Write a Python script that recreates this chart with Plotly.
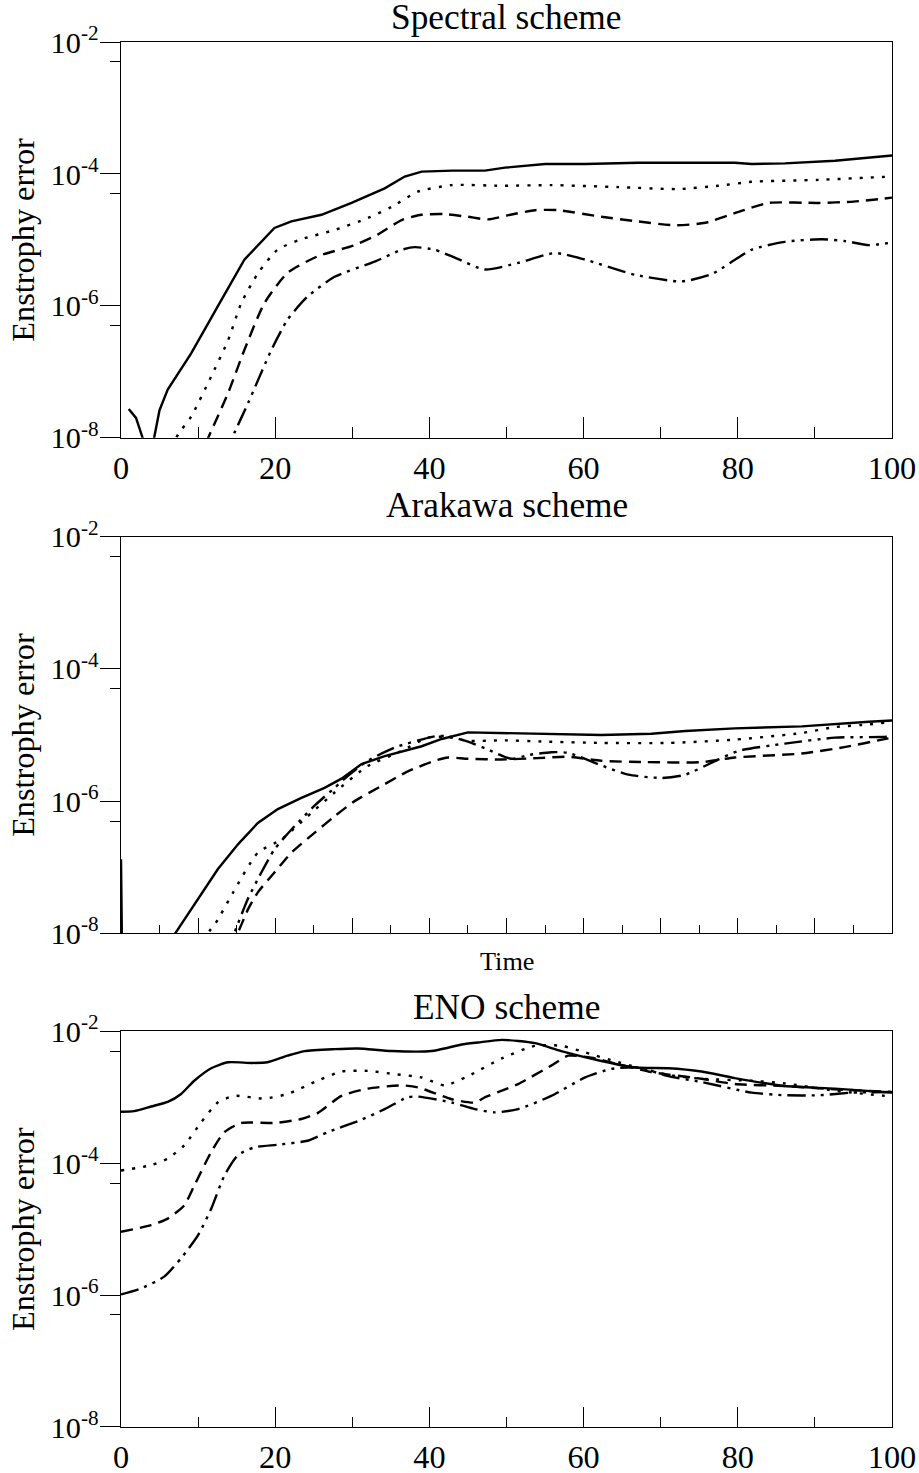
import plotly.graph_objects as go

FONT = "Liberation Serif, Times New Roman, serif"

# ---------------- data (log10 of enstrophy error) ----------------
# Spectral scheme
sp_solid_x = [1.0, 1.95, 2.8, 3.5, 4.3, 5.0, 6.06, 9.1, 12.55, 16.0, 19.9, 22.1, 26.0, 29.9, 34.2, 36.8, 39.0, 43.0, 47.2, 49.8, 55, 60.2, 67.1, 73, 79.6, 81.8, 86.1, 92.6, 100]
sp_solid_y = [-7.565, -7.70, -8.0, -8.6, -8.0, -7.58, -7.27, -6.72, -6.01, -5.30, -4.82, -4.72, -4.62, -4.44, -4.22, -4.04, -3.965, -3.95, -3.95, -3.905, -3.85, -3.85, -3.83, -3.83, -3.83, -3.85, -3.84, -3.80, -3.72]
sp_dot_x = [6.0, 7.4, 9.1, 11.7, 13.9, 15.6, 17.8, 20.3, 23.4, 27.7, 32.0, 35.1, 38.5, 42.9, 49.4, 55.8, 64.5, 72.3, 77.5, 81.8, 90.5, 100]
sp_dot_y = [-8.3, -7.95, -7.68, -7.07, -6.52, -5.96, -5.50, -5.15, -4.99, -4.85, -4.67, -4.50, -4.27, -4.17, -4.18, -4.17, -4.20, -4.23, -4.18, -4.12, -4.09, -4.04]
sp_dash_x = [10, 11.5, 13.9, 16.0, 18.6, 21.6, 25.5, 30.3, 33.3, 36.4, 39.0, 42.0, 45, 47.6, 50.5, 53.7, 56.7, 62.3, 67, 71.9, 75.8, 80, 84, 90.5, 95, 100]
sp_dash_y = [-8.35, -7.95, -7.32, -6.67, -5.96, -5.50, -5.25, -5.08, -4.92, -4.70, -4.62, -4.61, -4.65, -4.69, -4.62, -4.55, -4.55, -4.65, -4.72, -4.78, -4.74, -4.58, -4.44, -4.44, -4.42, -4.36]
sp_ddd_x = [13, 14.5, 16.5, 19.5, 21.6, 24.2, 27.7, 32.9, 36.4, 38.1, 40.7, 43.5, 47.2, 51.5, 56.3, 60.2, 66.7, 72.7, 76.6, 81.8, 86.1, 90.9, 94, 97, 100]
sp_ddd_y = [-8.4, -7.98, -7.47, -6.67, -6.21, -5.86, -5.56, -5.33, -5.15, -5.11, -5.15, -5.28, -5.45, -5.35, -5.20, -5.30, -5.53, -5.63, -5.52, -5.15, -5.03, -4.99, -5.02, -5.08, -5.04]

# Arakawa scheme
ar_solid_x = [0, 0.3, 3, 6.0, 7.1, 10.4, 12.55, 15.2, 17.75, 20.35, 23.4, 26.4, 28.6, 31.2, 34.2, 39, 41.6, 45, 49.4, 55, 62.3, 68.8, 73.2, 79.6, 88.3, 97, 100]
ar_solid_y = [-6.88, -10, -11, -8.2, -7.99, -7.41, -7.03, -6.65, -6.33, -6.12, -5.95, -5.80, -5.66, -5.44, -5.32, -5.17, -5.06, -4.96, -4.97, -4.99, -5.00, -4.98, -4.94, -4.90, -4.87, -4.80, -4.78]
ar_dot_x = [10.5, 12.3, 14.5, 17.75, 20.8, 24.2, 27.7, 32, 36.4, 39.8, 42.4, 45, 49.4, 55, 62.3, 71, 79.6, 88.3, 92.6, 97, 100]
ar_dot_y = [-8.1, -7.84, -7.39, -6.78, -6.58, -6.23, -5.87, -5.47, -5.24, -5.04, -5.03, -5.09, -5.08, -5.10, -5.12, -5.12, -5.07, -4.97, -4.88, -4.84, -4.80]
ar_dash_x = [14, 15.15, 16.5, 17.75, 19.9, 22.1, 25.1, 27.7, 30.3, 33.8, 37.2, 40.7, 42.4, 45, 49.4, 54, 58, 62.3, 68, 75.3, 79.6, 88.3, 94, 98.7, 100]
ar_dash_y = [-8.2, -7.99, -7.63, -7.38, -7.08, -6.78, -6.48, -6.23, -6.00, -5.77, -5.55, -5.39, -5.34, -5.36, -5.37, -5.35, -5.33, -5.39, -5.41, -5.41, -5.34, -5.28, -5.18, -5.07, -5.04]
ar_ddd_x = [13.5, 14.7, 16.45, 18.2, 19.9, 22.5, 25.1, 27.7, 29.4, 32, 35.5, 40.7, 42.4, 45, 47.6, 50.6, 53, 55.8, 58, 62.3, 65.8, 70.1, 73.2, 77.5, 80.1, 86.1, 92.6, 98.7, 100]
ar_ddd_y = [-8.3, -7.99, -7.48, -7.08, -6.73, -6.38, -6.07, -5.80, -5.62, -5.39, -5.19, -5.02, -5.02, -5.10, -5.22, -5.36, -5.30, -5.26, -5.27, -5.46, -5.60, -5.65, -5.60, -5.37, -5.24, -5.13, -5.04, -5.03, -5.02]

# ENO scheme
en_solid_x = [0, 1.7, 3.9, 6.06, 7.8, 9.5, 11.7, 13.9, 16.9, 19, 21.6, 23.8, 27.7, 30.7, 35.1, 40.3, 42.4, 44.2, 46.3, 49.4, 53.7, 57.1, 62.3, 66.7, 71, 75.3, 79.6, 86.1, 92.6, 100]
en_solid_y = [-3.22, -3.21, -3.14, -3.07, -2.95, -2.75, -2.56, -2.47, -2.48, -2.47, -2.37, -2.30, -2.27, -2.26, -2.30, -2.30, -2.25, -2.20, -2.17, -2.13, -2.18, -2.30, -2.45, -2.55, -2.56, -2.61, -2.71, -2.83, -2.87, -2.93]
en_dot_x = [0, 3.9, 6.06, 8.2, 10.4, 12.55, 14.7, 18.6, 21.6, 25.5, 28.6, 32, 35.5, 39, 42, 45, 49.4, 53.7, 57.1, 60.2, 64.5, 71, 75.3, 81.8, 86.1, 92.6, 100]
en_dot_y = [-4.11, -4.03, -3.93, -3.73, -3.38, -3.08, -2.98, -3.02, -2.95, -2.75, -2.61, -2.60, -2.65, -2.70, -2.82, -2.68, -2.41, -2.22, -2.22, -2.32, -2.47, -2.66, -2.72, -2.75, -2.79, -2.90, -2.99]
en_dash_x = [0, 3.9, 6.06, 8.2, 9.5, 11.7, 13.4, 15.6, 19.9, 23.4, 25.5, 28.6, 32, 36.4, 38.5, 42.9, 45.9, 47.2, 49.4, 51.5, 55.8, 58, 61, 64.5, 68.8, 75.3, 79.6, 86.1, 92.6, 100]
en_dash_y = [-5.04, -4.94, -4.84, -4.64, -4.34, -3.83, -3.53, -3.39, -3.39, -3.33, -3.24, -2.98, -2.87, -2.82, -2.85, -3.03, -3.08, -3.00, -2.90, -2.80, -2.52, -2.37, -2.40, -2.50, -2.62, -2.72, -2.80, -2.83, -2.88, -2.92]
en_ddd_x = [0, 2.6, 5.6, 7.8, 10, 11.7, 13.4, 15.15, 17.3, 20.35, 24.2, 26.8, 31.2, 34.2, 37.2, 38.5, 42.9, 45.9, 48.5, 51.5, 55.8, 60.2, 63.6, 67.1, 71, 75.3, 81.8, 86.1, 90.5, 94.8, 100]
en_ddd_y = [-5.99, -5.9, -5.72, -5.44, -5.09, -4.69, -4.19, -3.88, -3.76, -3.72, -3.66, -3.53, -3.34, -3.18, -3.00, -2.99, -3.08, -3.18, -3.23, -3.18, -2.98, -2.70, -2.57, -2.55, -2.68, -2.77, -2.93, -2.97, -2.97, -2.93, -2.92]

panel_titles = ["Spectral scheme", "Arakawa scheme", "ENO scheme"]
y_title = "Enstrophy error"
x_title_mid = "Time"
y_tick_vals = [1e-8, 1e-6, 1e-4, 1e-2]
y_tick_text = ["10<sup>-8</sup>", "10<sup>-6</sup>", "10<sup>-4</sup>", "10<sup>-2</sup>"]
y_minor_vals = [5e-7, 5e-5, 5e-3]

# ---------------- layout helpers ----------------
# S compensates for a uniform ~1% down-scaling observed in the captured page
S = 1.0095
W, H = 919, 1473
ML, MR, MT, MB = 120, 29, 42, 45
PW = W - ML - MR
PH = H - MT - MB


def yp(p):
    return (H - MB - p) / PH


def xp(p):
    return (p - ML) / PW


def s(v):
    return v * S


DASH = {
    "solid": "solid",
    "dot": "%.1fpx,%.1fpx" % (s(3), s(8)),
    "dash": "%.1fpx,%.1fpx" % (s(12), s(7)),
    "ddd": ",".join("%.1fpx" % s(v) for v in (18, 6, 3, 6, 3, 6)),
}

fig = go.Figure()

panels = [
    ("x", "y", [(sp_solid_x, sp_solid_y, "solid"), (sp_dot_x, sp_dot_y, "dot"),
                (sp_dash_x, sp_dash_y, "dash"), (sp_ddd_x, sp_ddd_y, "ddd")]),
    ("x2", "y2", [(ar_solid_x, ar_solid_y, "solid"), (ar_dot_x, ar_dot_y, "dot"),
                  (ar_dash_x, ar_dash_y, "dash"), (ar_ddd_x, ar_ddd_y, "ddd")]),
    ("x3", "y3", [(en_solid_x, en_solid_y, "solid"), (en_dot_x, en_dot_y, "dot"),
                  (en_dash_x, en_dash_y, "dash"), (en_ddd_x, en_ddd_y, "ddd")]),
]

for pi, (xa, ya, series) in enumerate(panels):
    for si, (xs, logs, st) in enumerate(series):
        spike = (pi == 1 and si == 0) or (pi == 0 and si == 0)
        fig.add_trace(go.Scatter(
            x=xs, y=[10 ** v for v in logs], mode="lines",
            line=dict(color="black", width=s(2.4), dash=DASH[st],
                      shape="linear" if spike else "spline",
                      smoothing=0.6),
            xaxis=xa, yaxis=ya, showlegend=False, hoverinfo="skip"))

AX_COL = "black"


def yaxis(domain, anchor):
    return dict(
        domain=domain, anchor=anchor, type="log", range=[-8, -2],
        tickmode="array", tickvals=y_tick_vals, ticktext=y_tick_text,
        ticks="outside", ticklen=s(20), tickwidth=s(1.4), tickcolor=AX_COL,
        showline=True, linecolor=AX_COL, linewidth=s(1.4), mirror=True,
        showgrid=False, zeroline=False, ticklabelstandoff=-5,
        tickfont=dict(family=FONT, size=s(30), color="black"),
        minor=dict(tickmode="array", tickvals=y_minor_vals, ticks="outside",
                   ticklen=s(10), tickwidth=s(1.4), tickcolor=AX_COL, showgrid=False),
    )


def xaxis(anchor, labels, dt, mdt, tl, mtl):
    return dict(
        anchor=anchor, domain=[0, 1], range=[0, 100],
        tickmode="linear", tick0=0, dtick=dt,
        ticks="inside", ticklen=s(tl), tickwidth=s(1.4), tickcolor=AX_COL,
        showline=True, linecolor=AX_COL, linewidth=s(1.4), mirror=True,
        showgrid=False, zeroline=False, showticklabels=labels,
        ticklabelstandoff=1,
        tickfont=dict(family=FONT, size=s(32), color="black"),
        minor=dict(tickmode="linear", tick0=0, dtick=mdt, ticks="inside",
                   ticklen=s(mtl), tickwidth=s(1.4), tickcolor=AX_COL, showgrid=False),
    )


annotations = []
title_centers = [17, 506, 1008]
panel_mid = [240, 735.5, 1230]
for t, yc in zip(panel_titles, title_centers):
    annotations.append(dict(text=t, x=xp(505), y=yp(yc), xref="paper", yref="paper",
                            xanchor="center", yanchor="middle", showarrow=False,
                            font=dict(family=FONT, size=s(35), color="black")))
for yc in panel_mid:
    annotations.append(dict(text=y_title, x=xp(22), y=yp(yc), xref="paper", yref="paper",
                            xanchor="center", yanchor="middle", showarrow=False, textangle=-90,
                            font=dict(family=FONT, size=s(32), color="black")))
annotations.append(dict(text=x_title_mid, x=xp(505), y=yp(962), xref="paper", yref="paper",
                        xanchor="center", yanchor="middle", showarrow=False,
                        font=dict(family=FONT, size=s(26), color="black")))

fig.update_layout(
    width=round(s(W)), height=round(s(H)), autosize=False,
    margin=dict(l=s(ML), r=s(MR), t=s(MT), b=s(MB), pad=0),
    plot_bgcolor="white", paper_bgcolor="white",
    showlegend=False,
    xaxis=xaxis("y", True, 20, 10, 20, 10),
    xaxis2=xaxis("y2", False, 10, 5, 15, 8),
    xaxis3=xaxis("y3", True, 20, 10, 20, 10),
    yaxis=yaxis([yp(438), yp(42)], "x"),
    yaxis2=yaxis([yp(934), yp(537)], "x2"),
    yaxis3=yaxis([yp(1428), yp(1032)], "x3"),
    annotations=annotations,
)

fig.write_html("out.html", config={"responsive": False})
